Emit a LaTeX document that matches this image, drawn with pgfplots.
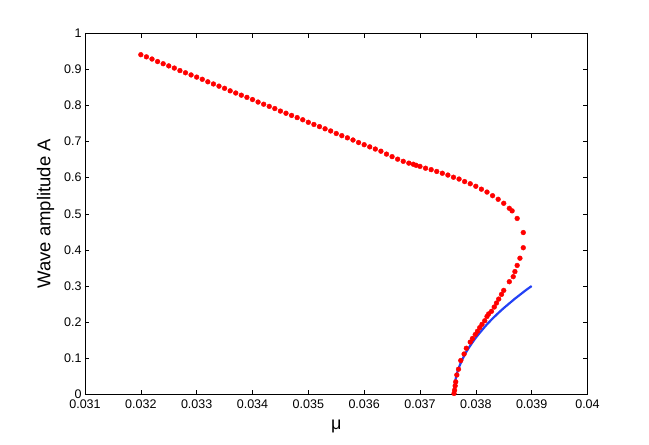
\documentclass[border=0pt]{standalone}
\usepackage{pgfplots}
\pgfplotsset{compat=1.18}
\usepackage{fontspec}
\setmainfont{Liberation Sans}
\definecolor{mred}{RGB}{255,0,0}
\definecolor{mblue}{RGB}{35,65,245}
\begin{document}
\begin{tikzpicture}[x=1pt,y=1pt]
\useasboundingbox (-85,-50.5) rectangle (564,394.5);
\begin{axis}[
  at={(0,0)}, anchor=south west,
  scale only axis, width=502.5pt, height=361.5pt,
  xmin=0.031, xmax=0.04, ymin=0, ymax=1,
  scaled x ticks=false, scaled y ticks=false,
  xtick={0.031,0.032,0.033,0.034,0.035,0.036,0.037,0.038,0.039,0.04},
  xticklabels={0.031,0.032,0.033,0.034,0.035,0.036,0.037,0.038,0.039,0.04},
  ytick={0,0.1,0.2,0.3,0.4,0.5,0.6,0.7,0.8,0.9,1},
  yticklabels={0,0.1,0.2,0.3,0.4,0.5,0.6,0.7,0.8,0.9,1},
  tick align=inside, major tick length=4.5pt,
  tick style={black, line width=0.5pt},
  axis line style={black, line width=0.5pt},
  tick label style={font=\fontsize{12.5}{14}\selectfont},
  xticklabel style={yshift=-2pt},
  yticklabel style={xshift=0pt},
  /pgf/number format/assume math mode=true,
  xlabel={μ}, ylabel={Wave amplitude A},
  xlabel style={font=\fontsize{18}{20}\selectfont, yshift=-4pt},
  ylabel style={font=\fontsize{18.5}{21}\selectfont, yshift=3pt},
  clip=false,
]
\addplot[only marks, mark=*, mark size=2.4pt, mred, mark options={draw=mred, fill=mred}] coordinates {
(0.0320,0.940) (0.0321,0.934) (0.0322,0.928) (0.0323,0.921) (0.0324,0.915)
(0.0325,0.909) (0.0326,0.903) (0.0327,0.896) (0.0328,0.890) (0.0329,0.884)
(0.0330,0.878) (0.0331,0.872) (0.0332,0.865) (0.0333,0.859) (0.0334,0.853)
(0.0335,0.847) (0.0336,0.840) (0.0337,0.834) (0.0338,0.828) (0.0339,0.822)
(0.0340,0.816) (0.0341,0.809) (0.0342,0.803) (0.0343,0.797) (0.0344,0.791)
(0.0345,0.784) (0.0346,0.778) (0.0347,0.772) (0.0348,0.766) (0.0349,0.760)
(0.0350,0.753) (0.0351,0.747) (0.0352,0.741) (0.0353,0.735) (0.0354,0.729)
(0.0355,0.722) (0.0356,0.716) (0.0357,0.710) (0.0358,0.704) (0.0359,0.697)
(0.0360,0.691) (0.0361,0.685) (0.0362,0.679) (0.0363,0.673) (0.0364,0.665)
(0.0365,0.658) (0.0366,0.651) (0.0367,0.645) (0.0368,0.640) (0.03688,0.637)
(0.03693,0.634) (0.0370,0.631) (0.0371,0.626) (0.0372,0.622) (0.0373,0.617)
(0.0374,0.612) (0.0375,0.607) (0.0376,0.601) (0.0377,0.596) (0.0378,0.589)
(0.0379,0.583) (0.0380,0.576) (0.0381,0.568) (0.0382,0.560) (0.0383,0.550)
(0.0384,0.540) (0.0385,0.529) (0.0386,0.515) (0.03865,0.508) (0.03874,0.487)
(0.03885,0.448) (0.03885,0.406) (0.03879,0.377) (0.03874,0.357) (0.03870,0.340)
(0.03867,0.326) (0.03860,0.312) (0.03850,0.288) (0.03846,0.277) (0.03841,0.264)
(0.03837,0.253) (0.03833,0.242) (0.03828,0.230) (0.03823,0.223) (0.03820,0.216)
(0.03816,0.204) (0.03811,0.194) (0.03807,0.185) (0.03803,0.175) (0.03799,0.166)
(0.03794,0.155) (0.03790,0.145) (0.03783,0.128) (0.03779,0.112) (0.03773,0.094)
(0.03769,0.070) (0.03766,0.054) (0.03764,0.035) (0.03763,0.024) (0.03762,0.012)
(0.03761,0.003)
};
\addplot[mblue, line width=2.2pt, smooth] coordinates {
(0.03761,0.000) (0.03762,0.025) (0.03765,0.051) (0.0377,0.076) (0.0378,0.110)
(0.0379,0.135) (0.0380,0.157) (0.0381,0.176) (0.0382,0.194) (0.0383,0.210)
(0.0384,0.225) (0.0385,0.239) (0.0386,0.252) (0.0387,0.265) (0.0388,0.277)
(0.0389,0.289) (0.0390,0.300)
};
\end{axis}
\end{tikzpicture}
\end{document}
